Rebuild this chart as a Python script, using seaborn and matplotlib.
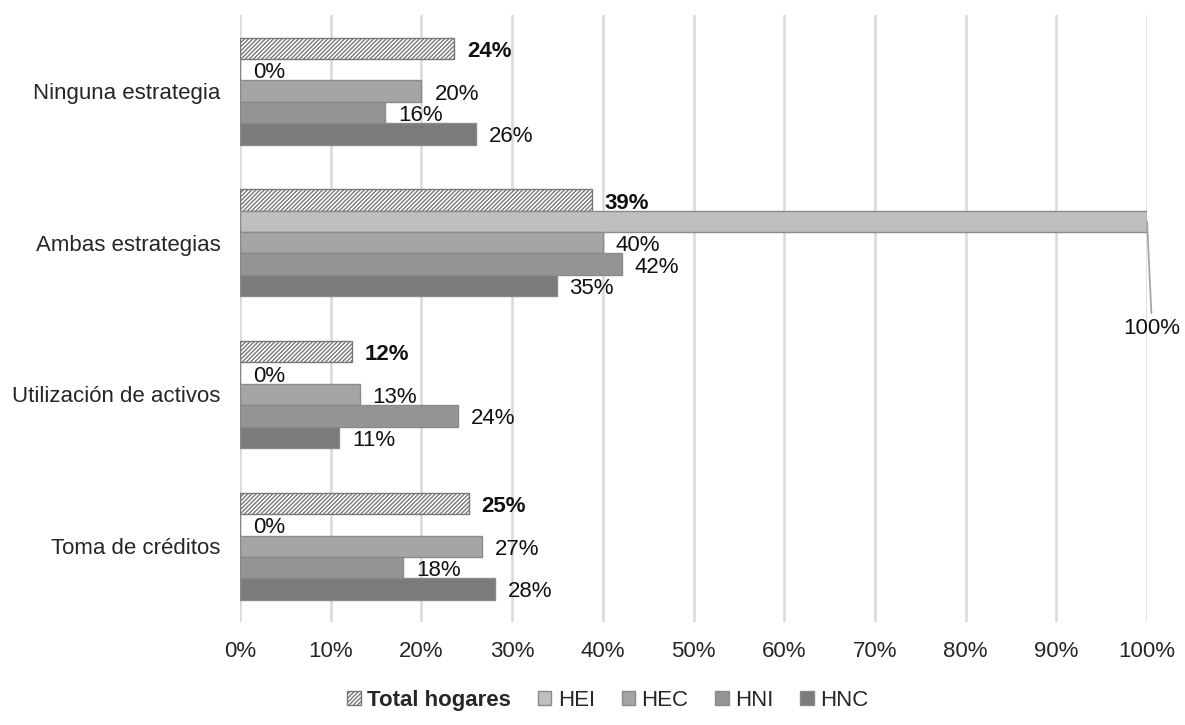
import pandas as pd
import numpy as np
import matplotlib
matplotlib.use("Agg")
import matplotlib.pyplot as plt
import seaborn as sns
from matplotlib.patches import Patch

# datos del gráfico (porcentaje de hogares)
categorias = ["Ninguna estrategia", "Ambas estrategias", "Utilización de activos", "Toma de créditos"]
grupos = ["Total hogares", "HEI", "HEC", "HNI", "HNC"]
total_hogares = [23.6, 38.8, 12.3, 25.2]
hei = [0, 100, 0, 0]
hec = [20.0, 40.0, 13.2, 26.7]
hni = [16.0, 42.1, 24.0, 18.0]
hnc = [26.0, 34.9, 10.9, 28.1]
ticks_x = [0, 10, 20, 30, 40, 50, 60, 70, 80, 90, 100]

colores = ["#ffffff", "#bfbfbf", "#a5a5a5", "#949494", "#7b7b7b"]
borde = "#8a8a8a"
trama = "////////"

df = pd.DataFrame({
    "categoria": np.repeat(categorias, len(grupos)),
    "grupo": grupos * len(categorias),
    "valor": np.ravel(np.column_stack([total_hogares, hei, hec, hni, hnc])),
})

sns.set_style("white")
plt.rcParams['font.family'] = ['Liberation Sans', 'DejaVu Sans']
plt.rcParams['hatch.linewidth'] = 1.0

fig = plt.figure(figsize=(11.85, 7.25), dpi=100)
ax = fig.add_axes([0.2025, 0.142, 0.7655, 0.837])

sns.barplot(data=df, y="categoria", x="valor", hue="grupo", order=categorias,
            hue_order=grupos, palette=colores, orient="h", width=0.705,
            errorbar=None, edgecolor=borde, linewidth=1, ax=ax, legend=False,
            zorder=2)

# barra de total con trama diagonal
for barra in ax.containers[0]:
    barra.set_hatch(trama)
    barra.set_edgecolor("#787878")

# etiquetas de datos
for i, cont in enumerate(ax.containers):
    for barra in cont:
        v = barra.get_width()
        yc = barra.get_y() + barra.get_height() / 2
        txt = f"{round(v)}%"
        if v >= 99.5:
            ax.annotate(txt, xy=(v, yc), xytext=(5, -107), textcoords="offset pixels",
                        ha="center", va="center", fontsize=16, color="#111111",
                        arrowprops=dict(arrowstyle="-", color="#a6a6a6", lw=1.3,
                                        shrinkA=1, shrinkB=0),
                        annotation_clip=False)
            continue
        ax.annotate(txt, xy=(v, yc), xytext=(13, -3), textcoords="offset pixels",
                    ha="left", va="center", fontsize=16, color="#111111",
                    fontweight="bold" if i == 0 else "normal")

ax.set_xlim(0, 100)
ax.set_xticks(ticks_x)
ax.set_xticklabels([f"{t}%" for t in ticks_x])
ax.xaxis.grid(True, color="#d9d9d9", linewidth=1.8, zorder=0)
ax.set_axisbelow(True)
for s in ax.spines.values():
    s.set_visible(False)
ax.tick_params(axis="x", length=0, labelsize=16, pad=14)
ax.tick_params(axis="y", length=0, labelsize=16, pad=14)
ax.set_xlabel("")
ax.set_ylabel("")

# leyenda
handles = [Patch(facecolor=c, edgecolor=borde if k else "#787878",
                 hatch=trama if k == 0 else None)
           for k, c in enumerate(colores)]
leg = fig.legend(handles, grupos, loc="lower center", bbox_to_anchor=(0.513, -0.008),
                 ncol=5, frameon=False, fontsize=16, handlelength=0.6,
                 handleheight=0.6, handletextpad=0.3, columnspacing=1.2)
leg.get_texts()[0].set_fontweight("bold")

fig.savefig("out.png", dpi=100)
